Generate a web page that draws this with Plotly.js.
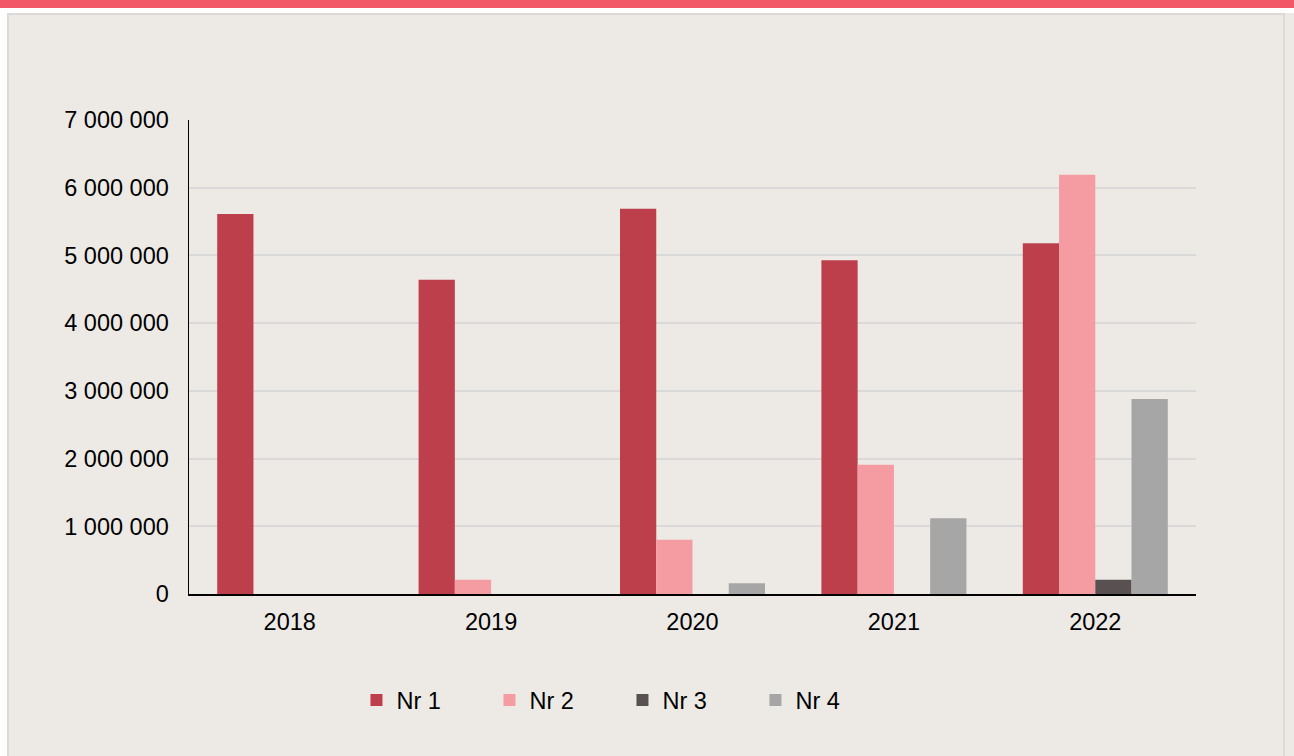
<!DOCTYPE html>
<html>
<head>
<meta charset="utf-8">
<script src="https://cdn.plot.ly/plotly-3.0.1.min.js"></script>
<style>
html,body{margin:0;padding:0;width:1294px;height:756px;overflow:hidden;background:#ffffff;}
#band{position:absolute;left:0;top:0;width:1294px;height:8px;background:#F25767;}
#box{position:absolute;left:7px;top:13px;width:1274px;height:741px;background:#EDEAE5;border:2px solid #DCDAD8;}
#right{position:absolute;left:1285px;top:13px;width:9px;height:743px;background:#EDEAE5;}
#chart{position:absolute;left:0;top:0;width:1294px;height:756px;}
</style>
</head>
<body>
<div id="band"></div>
<div id="box"></div>
<div id="right"></div>
<div id="chart"></div>
<script>
const years = ['2018', '2019', '2020', '2021', '2022'];
const nr1 = [5610000, 4640000, 5690000, 4930000, 5180000];
const nr2 = [0, 210000, 800000, 1910000, 6190000];
const nr3 = [0, 0, 0, 0, 210000];
const nr4 = [0, 0, 160000, 1120000, 2880000];
const seriesNames = ['Nr 1', 'Nr 2', 'Nr 3', 'Nr 4'];
const colors = ['#BE3F4C', '#F59CA2', '#595052', '#A6A6A6'];

const data = [nr1, nr2, nr3, nr4].map((vals, i) => ({
  type: 'bar',
  x: years,
  y: vals,
  name: seriesNames[i],
  marker: {color: colors[i], line: {width: 0}},
  hoverinfo: 'x+y+name'
}));

const layout = {
  width: 1294,
  height: 756,
  paper_bgcolor: 'rgba(0,0,0,0)',
  plot_bgcolor: 'rgba(0,0,0,0)',
  margin: {l: 189, r: 98, t: 120, b: 162, pad: 0},
  barmode: 'group',
  bargap: 0.28,
  bargroupgap: 0,
  separators: ', ',
  font: {family: 'Liberation Sans, Arial, sans-serif', size: 23.5, color: '#000000'},
  xaxis: {
    type: 'category',
    showline: true,
    linecolor: '#000000',
    linewidth: 2,
    showgrid: false,
    ticks: '',
    tickfont: {size: 23.5, color: '#000000'},
    ticklabelstandoff: 6,
    zeroline: false
  },
  yaxis: {
    range: [0, 7000000],
    dtick: 1000000,
    tickformat: ',d',
    showline: true,
    linecolor: '#000000',
    linewidth: 1.5,
    showgrid: true,
    gridcolor: '#D9D9D9',
    gridwidth: 2,
    zeroline: false,
    ticks: '',
    ticklabelstandoff: 14,
    tickfont: {size: 23.5, color: '#000000'}
  },
  legend: {
    orientation: 'h',
    x: 0.1663,
    xanchor: 'left',
    y: -0.224,
    yanchor: 'middle',
    font: {size: 23.5, color: '#000000'},
    bgcolor: 'rgba(0,0,0,0)',
    entrywidth: 88,
    itemwidth: 30,
    traceorder: 'normal'
  },
  showlegend: true
};

Plotly.newPlot('chart', data, layout, {displayModeBar: false, staticPlot: true});
</script>
</body>
</html>
